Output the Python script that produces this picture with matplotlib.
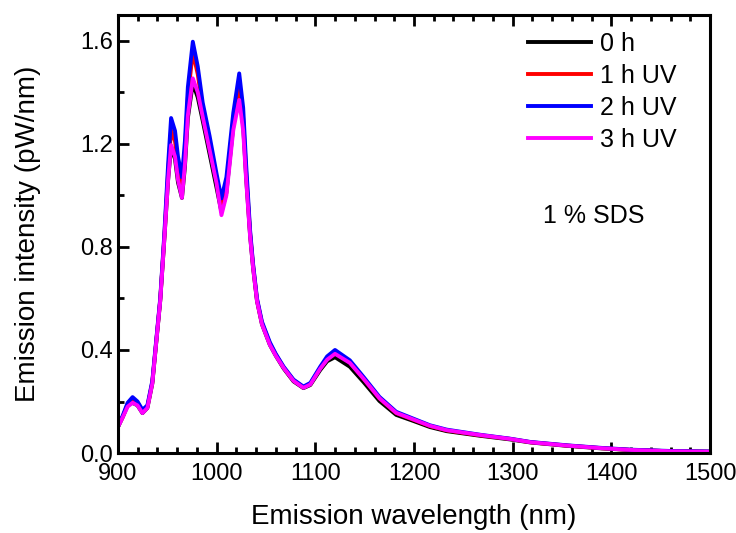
import matplotlib.pyplot as plt
from matplotlib.ticker import MultipleLocator

plt.rcParams['font.family'] = ['Liberation Sans', 'DejaVu Sans']

# wavelengths (nm)
wl = [900, 905, 910, 915, 920, 925, 930, 935, 939, 943, 947, 951, 954, 958, 961,
      965, 968, 971, 976, 981, 986, 993, 1000, 1005, 1010, 1017, 1023, 1027, 1030, 1034,
      1037, 1041, 1046, 1054, 1060, 1068, 1078, 1088, 1095, 1105, 1112, 1120, 1135, 1149, 1165,
      1182, 1199, 1216, 1233, 1267, 1297, 1318, 1355, 1390, 1420, 1460, 1500]

# emission intensity (pW/nm)
h0 = [0.10, 0.14, 0.185, 0.195, 0.185, 0.155, 0.175, 0.27, 0.43, 0.59, 0.82, 1.06, 1.19, 1.14, 1.05,
      0.99, 1.11, 1.30, 1.435, 1.38, 1.29, 1.16, 1.03, 0.936, 1.01, 1.27, 1.40, 1.27, 1.07, 0.845,
      0.72, 0.59, 0.50, 0.42, 0.378, 0.328, 0.278, 0.252, 0.264, 0.322, 0.356, 0.372, 0.335, 0.275, 0.202,
      0.148, 0.125, 0.101, 0.085, 0.067, 0.053, 0.041, 0.028, 0.018, 0.012, 0.007, 0.005]
h1 = [0.10, 0.14, 0.19, 0.21, 0.195, 0.162, 0.18, 0.275, 0.435, 0.595, 0.83, 1.09, 1.253, 1.21, 1.11,
      1.033, 1.17, 1.38, 1.557, 1.47, 1.34, 1.21, 1.065, 0.962, 1.04, 1.29, 1.428, 1.30, 1.09, 0.855,
      0.73, 0.595, 0.505, 0.425, 0.382, 0.332, 0.282, 0.255, 0.268, 0.330, 0.368, 0.39, 0.352, 0.288, 0.212,
      0.155, 0.130, 0.105, 0.088, 0.069, 0.055, 0.042, 0.029, 0.019, 0.012, 0.007, 0.005]
h2 = [0.10, 0.145, 0.195, 0.217, 0.20, 0.168, 0.185, 0.28, 0.44, 0.60, 0.84, 1.12, 1.30, 1.25, 1.15,
      1.07, 1.21, 1.42, 1.596, 1.50, 1.36, 1.23, 1.085, 0.988, 1.07, 1.32, 1.473, 1.34, 1.12, 0.865,
      0.735, 0.60, 0.51, 0.43, 0.385, 0.335, 0.285, 0.258, 0.272, 0.335, 0.375, 0.40, 0.36, 0.295, 0.218,
      0.16, 0.134, 0.108, 0.091, 0.071, 0.056, 0.043, 0.03, 0.02, 0.013, 0.008, 0.006]
h3 = [0.10, 0.138, 0.18, 0.195, 0.185, 0.155, 0.175, 0.27, 0.43, 0.59, 0.82, 1.06, 1.195, 1.15, 1.06,
      0.99, 1.12, 1.31, 1.454, 1.40, 1.305, 1.176, 1.047, 0.923, 1.00, 1.253, 1.37, 1.25, 1.06, 0.84,
      0.72, 0.59, 0.50, 0.42, 0.378, 0.330, 0.280, 0.253, 0.266, 0.327, 0.362, 0.385, 0.35, 0.288, 0.213,
      0.156, 0.131, 0.106, 0.089, 0.070, 0.055, 0.042, 0.029, 0.019, 0.012, 0.007, 0.005]

labels = ['0 h', '1 h UV', '2 h UV', '3 h UV']
colors = ['black', 'red', 'blue', 'magenta']

fig = plt.figure(figsize=(7.36, 5.33), dpi=100)
ax = fig.add_axes([0.160, 0.150, 0.805, 0.822])

for y, lab, col in zip([h0, h1, h2, h3], labels, colors):
    ax.plot(wl, y, color=col, lw=2.8, label=lab, solid_joinstyle='round')

ax.set_xlim(900, 1500)
ax.set_ylim(0, 1.7)
ax.xaxis.set_major_locator(MultipleLocator(100))
ax.xaxis.set_minor_locator(MultipleLocator(20))
ax.yaxis.set_major_locator(MultipleLocator(0.4))
ax.yaxis.set_minor_locator(MultipleLocator(0.2))
ax.yaxis.set_major_formatter(plt.FormatStrFormatter('%.1f'))
ax.tick_params(which='both', direction='in', top=True, right=False, width=2, labelsize=17)
ax.tick_params(which='major', length=8)
ax.tick_params(which='minor', length=4)
ax.tick_params(axis='x', which='major', pad=7)
for s in ax.spines.values():
    s.set_linewidth(2.2)

ax.set_xlabel('Emission wavelength (nm)', fontsize=20, labelpad=14)
ax.set_ylabel('Emission intensity (pW/nm)', fontsize=20, labelpad=28)

ax.legend(loc='upper left', bbox_to_anchor=(0.693, 0.962), frameon=False, fontsize=18,
          handlelength=2.5, handletextpad=0.35, labelspacing=0.32, borderpad=0, borderaxespad=0)
ax.text(0.718, 0.541, '1 % SDS', transform=ax.transAxes, fontsize=18, va='center', ha='left')

fig.savefig('out.png', dpi=100)
